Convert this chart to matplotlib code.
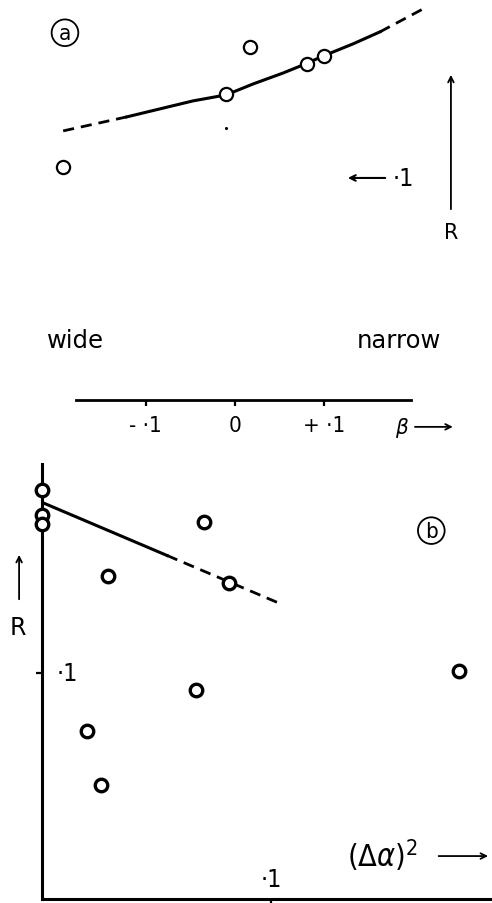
import matplotlib
matplotlib.use("Agg")
import matplotlib.pyplot as plt

plt.rcParams['font.family'] = ['DejaVu Sans']
plt.rcParams['font.stretch'] = 'condensed'
plt.rcParams['mathtext.fontset'] = 'dejavusans'

# (a) R against beta
beta_pts = [-0.192, 0.017, -0.010, 0.080, 0.100]
r_pts_a = [0.1050, 0.1590, 0.1378, 0.1514, 0.1550]

# fitted curve, read along its length
beta_curve = [-0.192, -0.121, -0.084, -0.047, -0.010, 0.020,
              0.054, 0.079, 0.099, 0.132, 0.162, 0.210]
r_curve = [0.1212, 0.1275, 0.1311, 0.1347, 0.1374, 0.1423,
           0.1473, 0.1514, 0.1550, 0.1604, 0.1658, 0.1761]

beta_ticks = [-0.1, 0.0, 0.1]
beta_ticklabels = ['- ·1', '0', '+ ·1']

# (b) R against (delta alpha)^2
da2_pts = [0.0, 0.0, 0.0, 0.0707, 0.0288, 0.0817, 0.182, 0.0672, 0.0197, 0.0258]
r_pts_b = [0.181, 0.170, 0.166, 0.167, 0.143, 0.140, 0.101, 0.0925, 0.0743, 0.0504]

da2_line = [0.0, 0.0546, 0.1026]
r_line = [0.1755, 0.1520, 0.1313]

W, H = 492, 904
fig = plt.figure(figsize=(W / 100, H / 100), dpi=100)

# ---------- panel (a) ----------
ax1 = fig.add_axes([0, (H - 401) / H, 1, 401 / H])
ax1.set_xlim(-0.2626, 0.2872)
ax1.set_ylim(0, 0.1806)
for s in ['top', 'left', 'right']:
    ax1.spines[s].set_visible(False)
ax1.spines['bottom'].set_bounds(-0.178, 0.197)
ax1.spines['bottom'].set_linewidth(2.0)
ax1.set_yticks([])
ax1.set_xticks(beta_ticks)
ax1.set_xticklabels(beta_ticklabels, fontsize=16)
ax1.tick_params(axis='x', direction='out', length=4, width=1.6, pad=7)

dash = (0, (4, 2.5))
ax1.plot(beta_curve[:2], r_curve[:2], color='black', lw=2.0, ls=dash)
ax1.plot(beta_curve[1:11], r_curve[1:11], color='black', lw=2.2)
ax1.plot(beta_curve[10:], r_curve[10:], color='black', lw=2.0, ls=dash)
ax1.plot(beta_pts, r_pts_a, 'o', ms=9.5, mfc='white', mec='black', mew=1.6,
         clip_on=False, zorder=5)
ax1.plot([-0.010], [0.1225], 'o', ms=1.2, color='black')

ax1.text(-0.190, 0.1654, 'a', fontsize=16, ha='center', va='center',
         bbox=dict(boxstyle='circle,pad=0.15', fc='white', ec='black', lw=1.3))

ax1.annotate('', xy=(0.123, 0.100), xytext=(0.171, 0.100),
             arrowprops=dict(arrowstyle='->', lw=1.5, color='black'))
ax1.text(0.176, 0.100, '·1', fontsize=18, ha='left', va='center')

ax1.annotate('', xy=(0.2413, 0.1477), xytext=(0.2413, 0.0847),
             arrowprops=dict(arrowstyle='->', lw=1.3, color='black'))
ax1.text(0.2413, 0.0757, 'R', fontsize=15, ha='center', va='center',
         fontstretch='normal')

ax1.text(-0.210, 0.0270, 'wide', fontsize=17.5, ha='left', va='center',
         fontstretch='normal')
ax1.text(0.136, 0.0270, 'narrow', fontsize=17.5, ha='left', va='center',
         fontstretch='normal')

ax1.text(0.179, -0.0121, r'$\beta$', fontsize=16, ha='left', va='center',
         clip_on=False)
ax1.annotate('', xy=(0.2465, -0.0121), xytext=(0.1980, -0.0121),
             annotation_clip=False,
             arrowprops=dict(arrowstyle='->', lw=1.3, color='black'))

# ---------- panel (b) ----------
ax2 = fig.add_axes([42 / W, 4 / H, (490 - 42) / W, (900 - 465) / H])
ax2.set_xlim(0, (490 - 42) / 2290)
ax2.set_ylim(0, (900 - 465) / 2260)
for s in ['top', 'right']:
    ax2.spines[s].set_visible(False)
for s in ['left', 'bottom']:
    ax2.spines[s].set_linewidth(2.2)
ax2.set_xticks([0.1])
ax2.set_yticks([0.1])
ax2.set_xticklabels([])
ax2.set_yticklabels([])
ax2.tick_params(direction='out', length=4, width=1.6)
ax2.text(0.0062, 0.1, '·1', fontsize=18, ha='left', va='center')
ax2.text(0.1, 0.0090, '·1', fontsize=18, ha='center', va='center')

ax2.plot(da2_line[:2], r_line[:2], color='black', lw=2.2, zorder=4)
ax2.plot(da2_line[1:], r_line[1:], color='black', lw=2.0, ls=dash, zorder=4)
ax2.plot(da2_pts, r_pts_b, 'o', ms=9, mfc='white', mec='black', mew=2.4,
         clip_on=False, zorder=6)

ax2.text(0.170, 0.163, 'b', fontsize=16, ha='center', va='center',
         bbox=dict(boxstyle='circle,pad=0.15', fc='white', ec='black', lw=1.3))

ax2.annotate('', xy=(-0.0100, 0.1535), xytext=(-0.0100, 0.1314),
             annotation_clip=False,
             arrowprops=dict(arrowstyle='->', lw=1.3, color='black'))
ax2.text(-0.0105, 0.1204, 'R', fontsize=17, ha='center', va='center',
         clip_on=False, fontstretch='normal')

ax2.text(0.133, 0.0195, r'$(\Delta\alpha)^2$', fontsize=22, ha='left',
         va='center', clip_on=False)
ax2.annotate('', xy=(0.196, 0.0190), xytext=(0.172, 0.0190),
             annotation_clip=False,
             arrowprops=dict(arrowstyle='->', lw=1.3, color='black'))

fig.savefig('out.png', dpi=100)
